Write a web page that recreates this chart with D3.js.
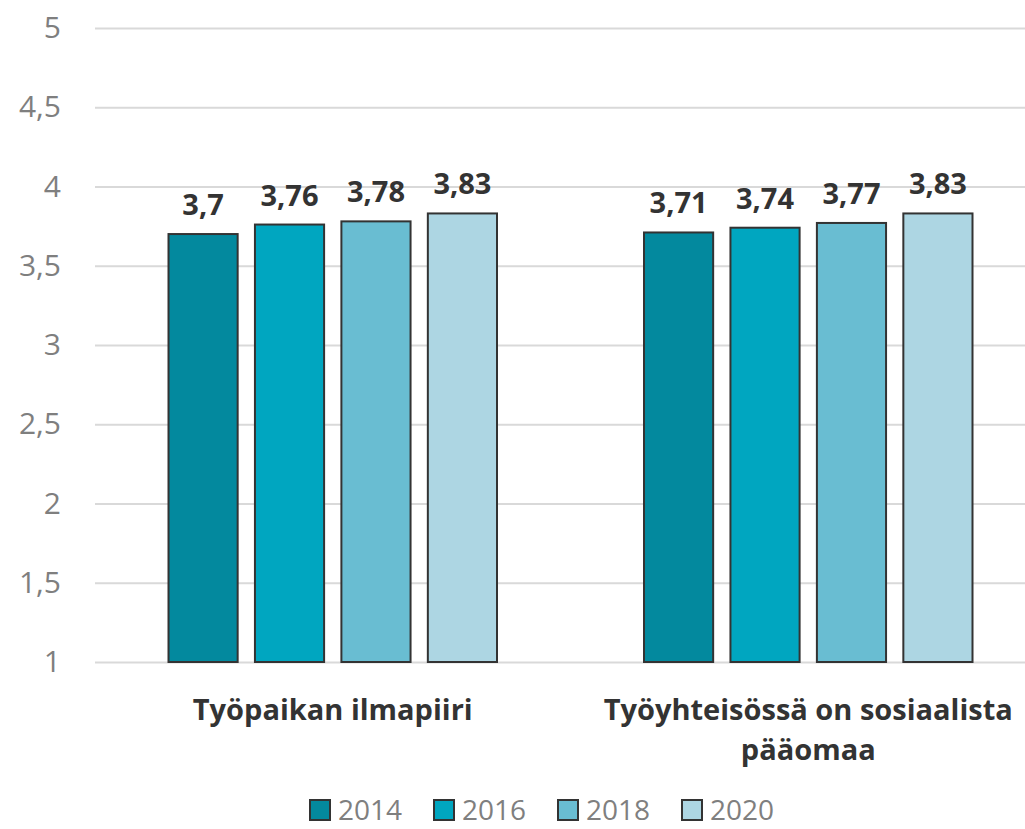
<!DOCTYPE html>
<html>
<head>
<meta charset="utf-8">
<script src="https://cdn.jsdelivr.net/npm/d3@7"></script>
<style>
  body { margin: 0; background: #fff; }
  svg { display: block; font-family: "Open Sans", "Noto Sans", sans-serif; }
</style>
</head>
<body>
<svg width="1025" height="829"></svg>
<script>
// data
const categories = [["Työpaikan ilmapiiri"], ["Työyhteisössä on sosiaalista", "pääomaa"]];
const years = ["2014", "2016", "2018", "2020"];
const values2014 = [3.7, 3.71];
const values2016 = [3.76, 3.74];
const values2018 = [3.78, 3.77];
const values2020 = [3.83, 3.83];
const yTicks = [1, 1.5, 2, 2.5, 3, 3.5, 4, 4.5, 5];
const colors = ["#03899E", "#00A6C0", "#69BDD2", "#ADD6E3"];

const seriesValues = [values2014, values2016, values2018, values2020];
const catKeys = categories.map(c => c.join(" "));

const svg = d3.select("svg");

const y = d3.scaleLinear()
    .domain([1, 5])
    .range([662, 28]);

const x0 = d3.scaleBand()
    .domain(catKeys)
    .range([95, 1046]);

const x1 = d3.scaleBand()
    .domain(years)
    .range([73.5, 402])
    .paddingInner(0.2);

const fmt = v => String(v).replace(".", ",");

// gridlines + y labels
const yAxis = svg.append("g")
    .attr("transform", "translate(95,0)")
    .call(d3.axisLeft(y).tickValues(yTicks).tickSize(-951).tickFormat(fmt).tickPadding(34));
yAxis.select(".domain").remove();
yAxis.selectAll(".tick line").attr("stroke", "#d9d9d9").attr("stroke-width", 2);
yAxis.selectAll(".tick text")
    .attr("fill", "#7f7f7f")
    .style("font-size", "30px")
    .style("font-family", "'Open Sans', sans-serif");

// bars
const groups = svg.selectAll(".grp")
    .data(catKeys)
    .enter()
    .append("g")
    .attr("class", "grp")
    .attr("transform", d => `translate(${x0(d)},0)`);

groups.each(function(cat, ci) {
    const g = d3.select(this);
    years.forEach((yr, si) => {
        const v = seriesValues[si][ci];
        g.append("rect")
            .attr("x", x1(yr))
            .attr("y", y(v))
            .attr("width", x1.bandwidth())
            .attr("height", y(1) - y(v))
            .attr("fill", colors[si])
            .attr("stroke", "#333")
            .attr("stroke-width", 2);
        g.append("text")
            .attr("x", x1(yr) + x1.bandwidth() / 2)
            .attr("y", y(v) - 19)
            .attr("text-anchor", "middle")
            .attr("fill", "#333")
            .style("font-size", "29px")
            .style("font-weight", "bold")
            .text(fmt(v));
    });
});

// category labels
categories.forEach((lines, ci) => {
    const cx = x0(catKeys[ci]) + (73.5 + 402) / 2;
    const t = svg.append("text")
        .attr("text-anchor", "middle")
        .attr("fill", "#333")
        .style("font-size", "29px")
        .style("font-weight", "bold");
    lines.forEach((line, li) => {
        t.append("tspan")
            .attr("x", cx)
            .attr("y", 720 + li * 40)
            .text(line);
    });
});

// legend
const legend = svg.append("g");
years.forEach((yr, i) => {
    const lx = 310 + i * 124;
    legend.append("rect")
        .attr("x", lx)
        .attr("y", 800)
        .attr("width", 20)
        .attr("height", 20)
        .attr("fill", colors[i])
        .attr("stroke", "#333")
        .attr("stroke-width", 2);
    legend.append("text")
        .attr("x", lx + 28)
        .attr("y", 820)
        .attr("fill", "#7f7f7f")
        .style("font-size", "28px")
        .text(yr);
});
</script>
</body>
</html>
